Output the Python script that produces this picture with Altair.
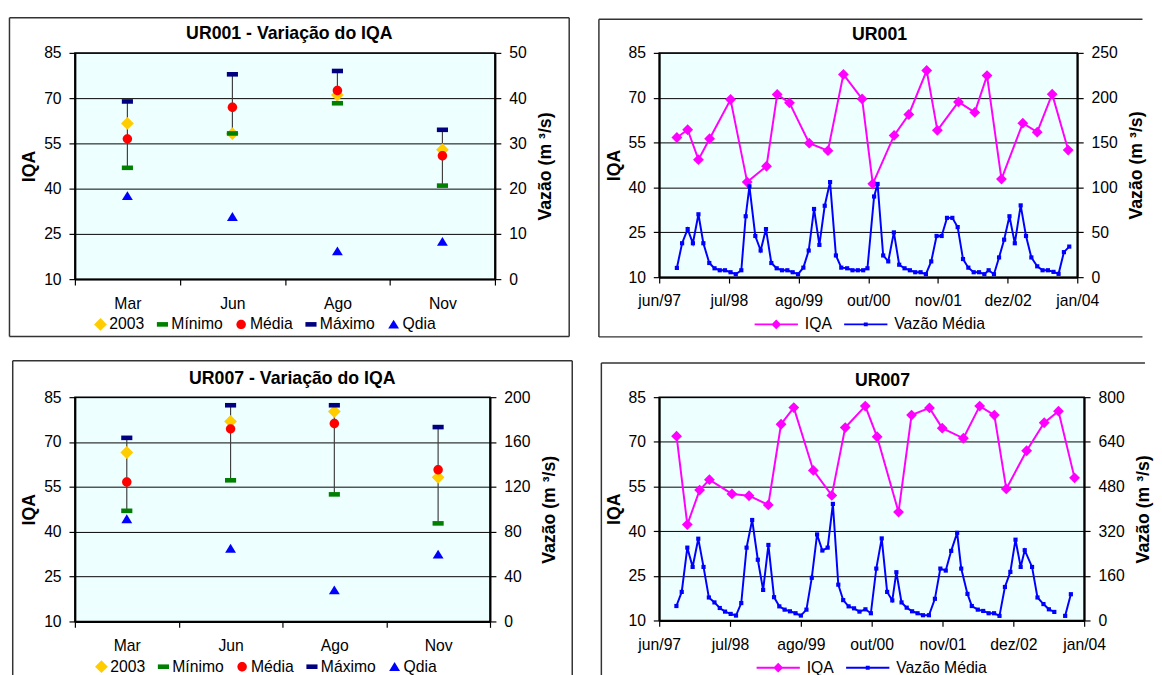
import altair as alt
import pandas as pd

FONT = "Liberation Sans"
BG = "#EEFFFF"
GOLD, GREEN, RED, NAVY, BLUE, PINK = "#FFCC00", "#008000", "#FF0000", "#000080", "#0000FF", "#FF00FF"

# ---------------- data: left panels (seasonal variation) ----------------
months = ["Mar", "Jun", "Ago", "Nov"]
iqa_ticks = [10, 25, 40, 55, 70, 85]

ur001_2003 = [61.6, 58.2, 71.0, 52.9]
ur001_min = [46.9, 58.3, 68.3, 41.0]
ur001_media = [56.5, 67.0, 72.5, 50.9]
ur001_max = [68.9, 77.9, 79.0, 59.5]
ur001_qdia = [18.4, 13.8, 6.2, 8.3]
ur001_q_ticks = [0, 10, 20, 30, 40, 50]

ur007_2003 = [66.5, 76.9, 80.2, 58.2]
ur007_min = [47.0, 57.2, 52.5, 42.8]
ur007_media = [56.6, 74.4, 76.2, 60.7]
ur007_max = [71.4, 82.3, 82.3, 75.0]
ur007_qdia = [91.4, 65.1, 28.0, 59.9]
ur007_q_ticks = [0, 40, 80, 120, 160, 200]

# ---------------- data: right panels (time series) ----------------
# time in months after the "jun/97" tick
time_ticks = [0, 13.05, 26.1, 39.15, 52.2, 65.25, 78.3]
time_labels = ["jun/97", "jul/98", "ago/99", "out/00", "nov/01", "dez/02", "jan/04"]

ur001_iqa_t = [3.31, 5.33, 7.35, 9.44, 13.36, 16.48, 20.1, 22.1, 24.4, 28.1, 31.6, 34.5, 38.0,
               40.0, 44.0, 46.75, 50.1, 52.1, 56.05, 59.1, 61.4, 64.1, 68.1, 70.8, 73.6, 76.6]
ur001_iqa = [56.7, 59.3, 49.3, 56.3, 69.4, 41.8, 47.1, 71.1, 68.3, 54.8, 52.3, 77.8, 69.6,
             41.2, 57.4, 64.4, 79.1, 59.1, 68.6, 65.1, 77.4, 42.8, 61.5, 58.5, 71.2, 52.5]
ur001_vazao_t = [3.31, 4.29, 5.33, 6.31, 7.35, 8.27, 9.38, 10.36, 11.34, 12.32, 13.36, 14.34, 15.38,
                 16.2, 16.9, 18.0, 19.0, 20.0, 21.0, 22.0, 23.0, 24.0, 25.0, 26.0, 27.0, 28.0, 29.0,
                 30.0, 31.0, 32.0, 33.1, 34.1, 35.2, 36.2, 37.2, 38.2, 39.0, 40.25, 40.9, 41.95, 42.9,
                 43.95, 44.95, 45.95, 46.95, 47.95, 48.95, 49.95, 50.95, 51.95, 52.9, 53.9, 54.9, 55.9,
                 56.9, 57.9, 58.9, 59.9, 60.9, 61.7, 62.7, 63.65, 64.6, 65.6, 66.6, 67.7, 68.7, 69.7,
                 70.8, 71.8, 72.8, 73.85, 74.8, 75.8, 76.8]
ur001_vazao = [10.3, 37.8, 53.6, 37.8, 70.1, 37.8, 15.8, 9.9, 7.7, 7.7, 5.5, 3.3, 7.7,
               67.9, 101.3, 45.9, 29.7, 53.6, 15.8, 9.9, 7.7, 7.7, 5.5, 3.3, 10.6, 29.7, 76.0,
               36.0, 79.6, 106.0, 24.2, 10.6, 9.9, 7.7, 7.7, 7.7, 9.9, 89.9, 103.9, 24.2, 17.6,
               49.9, 13.9, 9.9, 7.7, 5.5, 5.5, 3.3, 17.6, 45.9, 45.9, 66.1, 66.1, 55.8,
               20.2, 10.6, 5.5, 5.5, 3.3, 7.7, 3.3, 22.0, 41.8, 67.9, 37.8, 80.0, 45.9, 22.0,
               12.1, 7.7, 7.7, 5.9, 3.7, 27.9, 34.1]
ur001_vazao_seg = [1] * 75
ur001_q2_ticks = [0, 50, 100, 150, 200, 250]

ur007_iqa_t = [3.2, 5.18, 7.45, 9.25, 13.4, 16.55, 20.1, 22.45, 24.8, 28.4, 31.8, 34.28, 37.97,
               40.15, 44.1, 46.5, 49.8, 52.15, 56.05, 59.05, 61.75, 63.95, 67.7, 70.94, 73.57, 76.53]
ur007_iqa = [71.9, 42.2, 53.8, 57.3, 52.5, 51.9, 48.8, 75.9, 81.5, 60.4, 52.0, 74.8, 82.0,
             71.7, 46.4, 79.0, 81.4, 74.6, 71.2, 82.0, 79.0, 54.2, 67.0, 76.4, 80.3, 57.9]
ur007_vazao_t = [3.17, 4.15, 5.18, 6.16, 7.2, 8.17, 9.15, 10.18, 11.16, 12.13, 13.17, 14.15, 15.12,
                 16.1, 17.13, 18.17, 19.15, 20.12, 21.16, 22.13, 23.11, 24.09, 25.12, 26.1, 27.13,
                 28.11, 29.09, 30.06, 31.04, 32.0, 33.0, 33.9, 34.9, 35.9, 36.9, 38.0, 39.0, 40.0,
                 41.0, 42.0, 42.95, 43.7, 44.65, 45.6, 46.6, 47.6, 48.6, 49.7, 50.8, 51.8, 52.8,
                 53.8, 54.9, 55.65, 56.8, 57.6, 58.7, 59.7, 60.7, 61.7, 62.7, 63.7, 64.7, 65.65,
                 66.6, 67.35, 68.7, 69.7, 70.8, 71.8, 72.8, 74.8, 75.85]
ur007_vazao = [51.8, 102.4, 261.0, 191.8, 293.0, 191.8, 82.4, 64.7, 44.7, 31.8, 23.5, 17.6, 62.4,
               261.0, 360.0, 217.6, 109.4, 270.6, 83.5, 50.6, 38.8, 32.9, 25.9, 17.6, 38.8,
               152.9, 308.2, 250.6, 261.0, 417.6, 128.2, 72.9, 50.6, 43.5, 31.8, 40.0, 25.9, 185.9,
               294.0, 102.4, 71.8, 172.9, 64.7, 45.9, 32.9, 25.9, 18.8, 18.8, 77.6, 185.9, 178.8,
               249.4, 314.1, 185.9, 95.3, 51.8, 38.8, 34.1, 25.9, 25.9, 16.5, 120.0, 174.1, 289.4,
               191.8, 251.8, 191.8, 82.4, 58.8, 40.0, 30.6, 16.5, 94.1]
ur007_vazao_seg = [1] * 71 + [2] * 2
ur007_q2_ticks = [0, 160, 320, 480, 640, 800]

# ---------------- helpers ----------------
ONE = alt.Data(values=[{"k": 1}])

SH_DASH = "M-0.87,-0.36L0.87,-0.36L0.87,0.36L-0.87,0.36Z"
SH_CIRC = "M0.74,0A0.74,0.74 0 1,1 -0.74,0A0.74,0.74 0 1,1 0.74,0Z"
SH_TRI = "M0,-0.72L0.85,0.66L-0.85,0.66Z"
SH_LEG_IQA = "M-1,-0.2L7.8,-0.2L7.8,0.2L-1,0.2Z M3.4,-1L4.4,0L3.4,1L2.4,0Z"
SH_LEG_Q = "M-1,-0.2L7.8,-0.2L7.8,0.2L-1,0.2Z M3.0,-0.4L3.8,-0.4L3.8,0.4L3.0,0.4Z"


def frame(x1, y1, x2, y2, sides):
    base = alt.Chart(ONE).mark_rule(color="#333333", strokeWidth=1.5)
    out = []
    if "t" in sides:
        out.append(base.encode(x=alt.value(x1), x2=alt.value(x2), y=alt.value(y1)))
    if "b" in sides:
        out.append(base.encode(x=alt.value(x1), x2=alt.value(x2), y=alt.value(y2)))
    if "l" in sides:
        out.append(base.encode(x=alt.value(x1), y=alt.value(y1), y2=alt.value(y2)))
    if "r" in sides:
        out.append(base.encode(x=alt.value(x2), y=alt.value(y1), y2=alt.value(y2)))
    return out


def title_mark(text, x, y):
    return alt.Chart(ONE).mark_text(
        text=text, font=FONT, fontSize=18, fontWeight="bold", align="center",
        baseline="middle", color="black").encode(x=alt.value(x), y=alt.value(y))


def legend_layer(field, names, colors, shapes, lx, ly, size, label_offset, col_pad):
    leg = alt.Legend(orient="none", legendX=lx, legendY=ly, direction="horizontal", title=None,
                     labelFont=FONT, labelFontSize=16, labelColor="black", symbolSize=size,
                     symbolStrokeWidth=0, labelOffset=label_offset, columnPadding=col_pad,
                     symbolOpacity=1)
    df = pd.DataFrame({field: names})
    return alt.Chart(df).mark_point(filled=True, opacity=0).encode(
        x=alt.value(0), y=alt.value(0),
        color=alt.Color(field + ":N", scale=alt.Scale(domain=names, range=colors), legend=leg),
        shape=alt.Shape(field + ":N", scale=alt.Scale(domain=names, range=shapes), legend=leg))


def iqa_axis():
    return alt.Axis(values=iqa_ticks, title="IQA", titlePadding=5, grid=True, gridColor="black",
                    gridWidth=1, tickSize=6, labelPadding=8)


def q_axis(vals):
    return alt.Axis(orient="right", values=vals, title="Vazão (m ³/s)", titleAngle=270,
                    titleBaseline="top", titlePadding=11, grid=False, tickSize=6, labelPadding=8)


def variation_panel(key, title, v2003, vmin, vmed, vmax, vq, qticks, w, h, fr, tpos, lpos, lab_pad, sides):
    df = pd.DataFrame({"mes": months, "v2003": v2003, "vmin": vmin, "vmed": vmed,
                       "vmax": vmax, "vq": vq})
    x = alt.X("mes:N", sort=months, title=None,
              scale=alt.Scale(paddingInner=0, paddingOuter=0),
              axis=alt.Axis(labelAngle=0, tickBand="extent", tickSize=6, labelPadding=lab_pad,
                            grid=False))
    ys = alt.Scale(domain=[10, 85], nice=False, zero=False)

    def yl(f):
        return alt.Y(f + ":Q", scale=ys, axis=iqa_axis())

    rule = alt.Chart(df).mark_rule(color="#404040", strokeWidth=1.2).encode(
        x=x, y=yl("vmin"), y2="vmax:Q")

    def pts(field, shape, color):
        return alt.Chart(df).mark_point(shape=shape, size=169, filled=True, color=color,
                                        opacity=1, strokeWidth=0).encode(x=x, y=yl(field))

    names = ["2003", "Mínimo", "Média", "Máximo", "Qdia"]
    leg = legend_layer("serie_" + key, names, [GOLD, GREEN, RED, NAVY, BLUE],
                       ["diamond", SH_DASH, SH_CIRC, SH_DASH, SH_TRI],
                       lpos[0], lpos[1], 169, 1, 10)
    left = alt.layer(*frame(*fr, sides), title_mark(title, *tpos), leg, rule,
                     pts("v2003", "diamond", GOLD), pts("vmin", SH_DASH, GREEN),
                     pts("vmed", SH_CIRC, RED), pts("vmax", SH_DASH, NAVY))
    pq = alt.Chart(df).mark_point(shape=SH_TRI, size=169, filled=True, color=BLUE, opacity=1,
                                  strokeWidth=0).encode(
        x=x, y=alt.Y("vq:Q", scale=alt.Scale(domain=[0, qticks[-1]], nice=False),
                     axis=q_axis(qticks)))
    return alt.layer(left, pq).resolve_scale(y="independent").properties(width=w, height=h)


lab_expr = "[" + ",".join("'%s'" % s for s in time_labels) + "][round(datum.value / %s)]" % time_ticks[1]


def series_panel(key, title, it, iv, qt, qv, qseg, qticks, w, h, fr, tpos, lpos, lab_pad, sides):
    di = pd.DataFrame({"t": it, "iqa": iv})
    dq = pd.DataFrame({"t": qt, "q": qv, "seg": qseg})
    x = alt.X("t:Q", title=None,
              scale=alt.Scale(domain=[0, time_ticks[-1]], nice=False, zero=False),
              axis=alt.Axis(values=time_ticks, labelExpr=lab_expr, labelFlush=False, grid=False,
                            tickSize=6, labelPadding=lab_pad))
    ys = alt.Scale(domain=[10, 85], nice=False, zero=False)
    y = alt.Y("iqa:Q", scale=ys, axis=iqa_axis())
    line_i = alt.Chart(di).mark_line(color=PINK, strokeWidth=2).encode(x=x, y=y)
    pts_i = alt.Chart(di).mark_point(shape="diamond", size=121, filled=True, color=PINK,
                                     opacity=1, strokeWidth=0).encode(x=x, y=y)
    leg = legend_layer("serie_" + key, ["IQA", "Vazão Média"], [PINK, BLUE],
                       [SH_LEG_IQA, SH_LEG_Q], lpos[0], lpos[1], 100, 38, 9)
    left = alt.layer(*frame(*fr, sides), title_mark(title, *tpos), leg, line_i, pts_i)
    yq = alt.Y("q:Q", scale=alt.Scale(domain=[0, qticks[-1]], nice=False), axis=q_axis(qticks))
    line_q = alt.Chart(dq).mark_line(color=BLUE, strokeWidth=2).encode(x=x, y=yq, detail="seg:N")
    pts_q = alt.Chart(dq).mark_point(shape="square", size=18, filled=True, color=BLUE,
                                     opacity=1, strokeWidth=0).encode(x=x, y=yq)
    right = alt.layer(line_q, pts_q)
    return alt.layer(left, right).resolve_scale(y="independent").properties(width=w, height=h)


tl = variation_panel("tl", "UR001 - Variação do IQA", ur001_2003, ur001_min, ur001_media, ur001_max,
                     ur001_qdia, ur001_q_ticks, 427, 230,
                     (-66.5, -35.7, 502.5, 288.3), (218, -19), (18, 268), 11, "tblr")
tr = series_panel("tr", "UR001", ur001_iqa_t, ur001_iqa, ur001_vazao_t, ur001_vazao, ur001_vazao_seg,
                  ur001_q2_ticks, 425, 228,
                  (-61.3, -34.3, 491.3, 288.7), (224, -17.6), (94, 268), 10, "tbl")
bl = variation_panel("bl", "UR007 - Variação do IQA", ur007_2003, ur007_min, ur007_media, ur007_max,
                     ur007_qdia, ur007_q_ticks, 422, 228,
                     (-63.2, -37, 505.6, 285), (221, -18.7), (19, 266), 11, "tlr")
br = series_panel("br", "UR007", ur007_iqa_t, ur007_iqa, ur007_vazao_t, ur007_vazao, ur007_vazao_seg,
                  ur007_q2_ticks, 432, 227,
                  (-58.8, -34.7, 493.8, 287.3), (227, -16.7), (96, 267), 11, "tl")

chart = alt.concat(tl, tr, bl, br, columns=2, spacing={"row": 20, "column": 23}).resolve_scale(
    color="independent", shape="independent"
).resolve_legend(
    color="independent", shape="independent"
).properties(
    padding={"left": 0, "top": 2, "right": 0, "bottom": 0}
).configure(font=FONT).configure_view(
    fill=BG, stroke="black", strokeWidth=1.5
).configure_axis(
    labelFont=FONT, labelFontSize=16, labelColor="black", titleFont=FONT, titleFontSize=18,
    titleFontWeight="bold", titleColor="black", domainColor="black", domainWidth=2,
    tickColor="black", tickWidth=1.2, gridColor="black"
)

chart.save("out.html", embed_options={"renderer": "svg", "actions": False})
